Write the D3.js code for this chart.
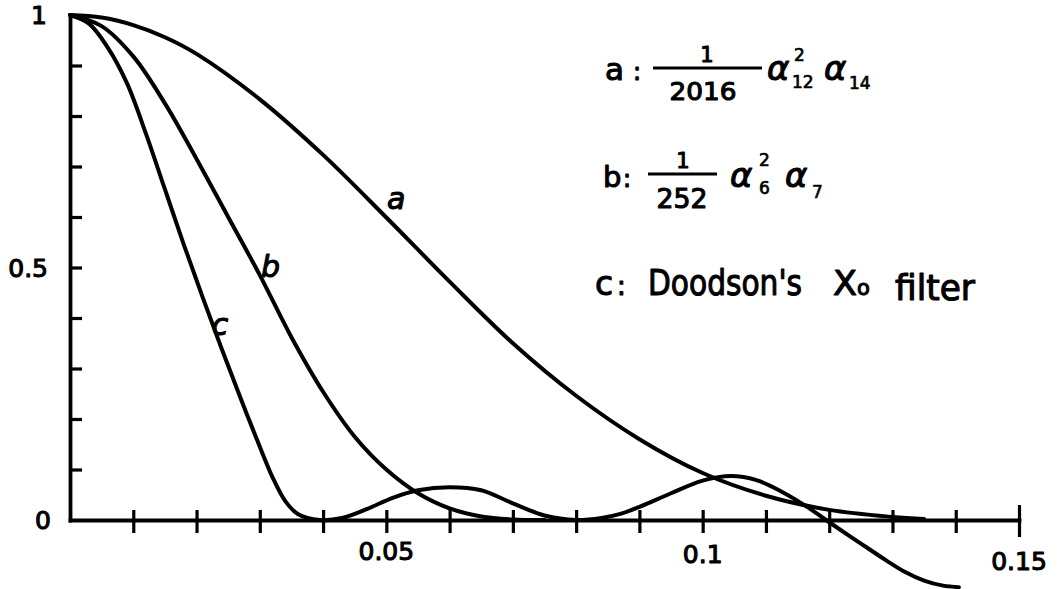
<!DOCTYPE html>
<html>
<head>
<meta charset="utf-8">
<script src="https://cdn.jsdelivr.net/npm/d3@7"></script>
<style>
  html, body { margin: 0; padding: 0; background: #fff; }
  svg { display: block; }
  text { font-family: "DejaVu Sans", sans-serif; fill: #000; stroke: #000; stroke-width: 1.1px; stroke-linejoin: round; }
  text.small { stroke-width: 0.7px; }
</style>
</head>
<body>
<svg id="chart" width="1061" height="589"></svg>
<script>
// Frequency response of three tidal low-pass filters (frequency in cycles per hour)

// a: (1/2016) α12² α14
const freqA = [0, 0.005, 0.01, 0.015, 0.02, 0.03, 0.04, 0.05, 0.06, 0.07, 0.08, 0.09, 0.10, 0.11, 0.12, 0.13, 0.135];
const respA = [1, 0.995, 0.98, 0.956, 0.923, 0.833, 0.723, 0.599, 0.472, 0.35, 0.246, 0.16, 0.093, 0.048, 0.02, 0.006, 0.002];

// b: (1/252) α6² α7
const freqB = [0, 0.005, 0.01, 0.015, 0.02, 0.025, 0.03, 0.035, 0.04, 0.045, 0.05, 0.055, 0.06, 0.065, 0.07, 0.075];
const respB = [1, 0.978, 0.918, 0.825, 0.715, 0.6, 0.485, 0.362, 0.254, 0.165, 0.1, 0.053, 0.023, 0.007, 0.001, 0.0];

// c: Doodson's X0 filter
const freqC = [0, 0.003, 0.006, 0.009, 0.012, 0.015, 0.018, 0.021, 0.024, 0.027, 0.030, 0.032, 0.034, 0.036, 0.0395,
               0.043, 0.047, 0.051, 0.055, 0.060, 0.065, 0.070, 0.075, 0.080, 0.084, 0.087, 0.090, 0.095, 0.100,
               0.1045, 0.1085, 0.1125, 0.1165, 0.1195, 0.123, 0.126, 0.129, 0.132, 0.135, 0.138, 0.1405];
const respC = [1, 0.983, 0.935, 0.865, 0.765, 0.655, 0.545, 0.44, 0.338, 0.24, 0.145, 0.085, 0.038, 0.012, 0.0,
               0.004, 0.022, 0.044, 0.059, 0.065, 0.059, 0.033, 0.009, 0.0, 0.004, 0.012, 0.026, 0.053, 0.078,
               0.087, 0.079, 0.056, 0.026, 0.0, -0.03, -0.055, -0.08, -0.103, -0.12, -0.13, -0.133];

const curveNames = ["a", "b", "c"];

// axis ticks and labels
const xTickValues = [0.01, 0.02, 0.03, 0.04, 0.05, 0.06, 0.07, 0.08, 0.09, 0.10, 0.11, 0.12, 0.13, 0.14, 0.15];
const xLabelValues = [0.05, 0.1, 0.15];
const xLabelText = ["0.05", "0.1", "0.15"];
const yTickValues = [0.1, 0.2, 0.3, 0.4, 0.5, 0.6, 0.7, 0.8, 0.9];
const yLabelValues = [0, 0.5, 1];
const yLabelText = ["0", "0.5", "1"];

// legend content
const legendKeys = ["a", "b", "c"];
const legendDenominators = ["2016", "252"];
const legendSubscripts = [["12", "14"], ["6", "7"]];
const legendDoodson = ["Doodson's", "X", "o", "filter"];

// ---------------------------------------------------------------
const svg = d3.select("#chart");
const x = d3.scaleLinear().domain([0, 0.15]).range([70, 1019]);
const y = d3.scaleLinear().domain([0, 1]).range([520, 15]);

// x axis with ticks crossing the baseline
const gx = svg.append("g")
  .attr("transform", `translate(0,${y(0)})`)
  .call(d3.axisBottom(x).tickValues(xTickValues).tickSizeOuter(0).tickSizeInner(13).tickFormat(""));
gx.select(".domain").attr("stroke", "#000").attr("stroke-width", 3.8).attr("stroke-linecap", "square");
gx.selectAll(".tick line")
  .attr("stroke", "#000").attr("stroke-width", 3.2)
  .attr("y1", d => d === 0.15 ? -15 : -10)
  .attr("y2", d => d === 0.15 ? 17 : 13);

// y axis with inward ticks
const gy = svg.append("g")
  .attr("transform", `translate(${x(0)},0)`)
  .call(d3.axisRight(y).tickValues(yTickValues).tickSizeOuter(0).tickSizeInner(12).tickFormat(""));
gy.select(".domain").attr("stroke", "#000").attr("stroke-width", 3.8).attr("stroke-linecap", "square");
gy.selectAll(".tick line").attr("stroke", "#000").attr("stroke-width", 3.2);

// tick labels
const xLabelDrop = [40, 43, 50];
svg.append("g").selectAll("text").data(xLabelValues).join("text")
  .attr("x", d => x(d))
  .attr("y", (d, i) => y(0) + xLabelDrop[i])
  .attr("text-anchor", "middle")
  .attr("font-size", 25)
  .text((d, i) => xLabelText[i]);

const yLabelRight = [51, 48, 47];
svg.append("g").selectAll("text").data(yLabelValues).join("text")
  .attr("x", (d, i) => yLabelRight[i])
  .attr("y", d => y(d) + 9)
  .attr("text-anchor", "end")
  .attr("font-size", 25)
  .text((d, i) => yLabelText[i]);

// response curves
const line = d3.line().x(d => x(d[0])).y(d => y(d[1])).curve(d3.curveCatmullRom.alpha(0.5));
const series = [
  d3.zip(freqA, respA),
  d3.zip(freqB, respB),
  d3.zip(freqC, respC)
];
svg.append("g").selectAll("path").data(series).join("path")
  .attr("d", line)
  .attr("fill", "none")
  .attr("stroke", "#000")
  .attr("stroke-width", 4)
  .attr("stroke-linejoin", "round")
  .attr("stroke-linecap", "round");

// curve labels
const labelPos = [[0.0501, 0.615], [0.0302, 0.482], [0.0224, 0.367]];
svg.append("g").selectAll("text").data(curveNames).join("text")
  .attr("x", (d, i) => x(labelPos[i][0]))
  .attr("y", (d, i) => y(labelPos[i][1]))
  .attr("font-size", 30)
  .attr("font-style", "italic")
  .text(d => d);

// legend
const lg = svg.append("g");
function txt(s, px, py, size, opts = {}) {
  const t = lg.append("text").attr("x", px).attr("y", py).attr("font-size", size).text(s);
  if (opts.anchor) t.attr("text-anchor", opts.anchor);
  if (opts.italic) t.attr("font-style", "italic");
  if (opts.len) t.attr("textLength", opts.len).attr("lengthAdjust", "spacingAndGlyphs");
  if (size < 20) t.attr("class", "small");
  return t;
}
function bar(x1, x2, yy) {
  lg.append("line").attr("x1", x1).attr("x2", x2).attr("y1", yy).attr("y2", yy)
    .attr("stroke", "#000").attr("stroke-width", 3);
}

// a : 1/2016 α12² α14
txt(legendKeys[0], 605, 80, 31);
txt(":", 633, 80, 24);
bar(653, 762, 68);
txt("1", 707, 62, 21, { anchor: "middle" });
txt(legendDenominators[0], 703, 100, 25, { anchor: "middle", len: 67 });
txt("α", 767, 80, 34, { italic: true });
txt("2", 794, 61, 17);
txt(legendSubscripts[0][0], 792, 88, 17);
txt("α", 824, 80, 34, { italic: true });
txt(legendSubscripts[0][1], 849, 89, 17);

// b : 1/252 α6² α7
txt(legendKeys[1], 603, 187, 29);
txt(":", 623, 187, 24);
bar(648, 717, 174);
txt("1", 683, 168, 21, { anchor: "middle" });
txt(legendDenominators[1], 682, 208, 26, { anchor: "middle", len: 51 });
txt("α", 730, 187, 34, { italic: true });
txt("2", 759, 166, 17);
txt(legendSubscripts[1][0], 759, 194, 17);
txt("α", 785, 187, 34, { italic: true });
txt(legendSubscripts[1][1], 812, 198, 17);

// c : Doodson's X0 filter
txt(legendKeys[2], 595, 295, 33);
txt(":", 617, 295, 26);
txt(legendDoodson[0], 648, 295, 35, { len: 154 });
txt(legendDoodson[1], 833, 295, 33, { len: 24 });
txt(legendDoodson[2], 857, 295, 21);
txt(legendDoodson[3], 895, 300, 35, { len: 80 });
</script>
</body>
</html>
